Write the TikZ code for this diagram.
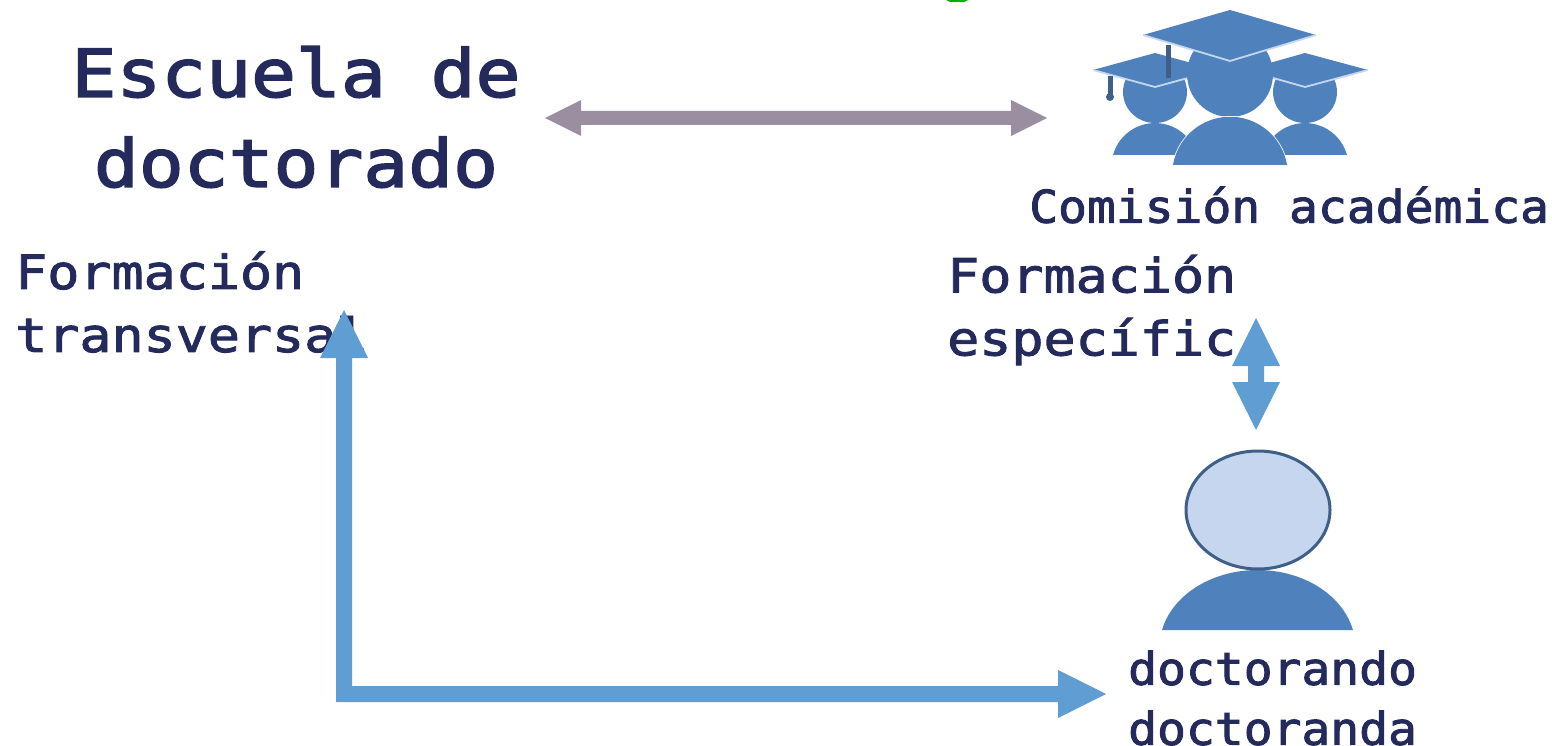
\documentclass[tikz,border=0pt]{standalone}
\usepackage{fontspec}
\setmainfont{DejaVu Sans Mono}
\newfontfamily\smallmono[FakeStretch=1.066,FakeBold=2]{DejaVu Sans Mono}
\newfontfamily\midmono[FakeStretch=1.135,FakeBold=2]{DejaVu Sans Mono}
\newfontfamily\bigmono[FakeStretch=1.13,FakeBold=2.5]{DejaVu Sans Mono}
\definecolor{txt}{HTML}{252A5C}
\definecolor{blu}{HTML}{5F9DD3}
\definecolor{dk}{HTML}{4F81BD}
\definecolor{lt}{HTML}{C5D6EE}
\definecolor{ol}{HTML}{3F5F88}
\definecolor{gry}{HTML}{9C8EA1}
\begin{document}
\begin{tikzpicture}[x=1pt,y=-1pt,
 lab/.style={text=txt,align=left,anchor=west,inner sep=0pt,font=\smallmono\fontsize{45}{60}\selectfont},
 mid/.style={text=txt,align=left,anchor=west,inner sep=0pt,font=\midmono\fontsize{47}{63}\selectfont},
 big/.style={text=txt,align=center,inner sep=0pt,font=\bigmono\fontsize{66}{90}\selectfont},
 capfill/.style={fill=dk},
 capedge/.style={draw=lt,line width=1.8pt,line join=round}]
\useasboundingbox (0,0) rectangle (1552,746);
\fill[green!70!black] (946,0) -- (968,0) -- (964,2) -- (950,2) -- cycle;
\node[big] (esc) at (296,117) {Escuela de\\doctorado};
\node[lab] (com) at (1029,205) {Comisión académica};
\node[mid] (ft) at (15,302) {Formación\\transversal};
\node[mid] (fe) at (947,310) {Formación\\específic};
\node[lab] (doc) at (1128,698) {doctorando\\doctoranda};
\fill[gry] (545,118) -- (581,100) -- (581,111) -- (1011,111) -- (1011,100) -- (1047,118) -- (1011,136) -- (1011,125) -- (581,125) -- (581,136) -- cycle;
\fill[blu] (344,310) -- (368,358) -- (352,358) -- (352,686) -- (1058,686) -- (1058,670) -- (1106,694) -- (1058,718) -- (1058,702) -- (336,702) -- (336,358) -- (320,358) -- cycle;
\fill[blu] (1256,318) -- (1280,366) -- (1264,366) -- (1264,382) -- (1280,382) -- (1256,430) -- (1232,382) -- (1248,382) -- (1248,366) -- (1232,366) -- cycle;
% person
\fill[dk] (1162,630) arc[start angle=193,end angle=347,x radius=98,y radius=77.4] -- cycle;
\draw[ol,line width=3pt,fill=lt] (1258,510) ellipse[x radius=72,y radius=59];
% graduates
\foreach \cx in {1155,1305}{
 \fill[dk] (\cx,92) ellipse[x radius=32,y radius=31];
 \fill[dk] (\cx-42,155) arc[start angle=195.5,end angle=344.5,radius=43.6] -- cycle;
}
\fill[capfill] (1093,70) -- (1155,53) -- (1217,70) -- (1155,87) -- cycle;
\fill[capfill] (1245,70) -- (1305,53) -- (1368,70) -- (1305,87) -- cycle;
\draw[capedge] (1093,70) -- (1155,87) -- (1217,70);
\draw[capedge] (1245,70) -- (1305,87) -- (1368,70);
\draw[ol,line width=5pt] (1110,76) -- (1110,97);
\fill[ol] (1110,97) circle (4);
\draw[ol,line width=5pt] (1168,45) -- (1168,78);
\fill[dk] (1230,74) ellipse[x radius=43,y radius=43];
\draw[white,line width=1.5pt] (1173,165) arc[start angle=189.5,end angle=350.5,radius=57.8];
\fill[dk] (1173,165) arc[start angle=189.5,end angle=350.5,radius=57.8] -- cycle;
\fill[capfill] (1143,35) -- (1230,10) -- (1316,35) -- (1230,61) -- cycle;
\draw[capedge] (1143,35) -- (1230,61) -- (1316,35);
\end{tikzpicture}
\end{document}
